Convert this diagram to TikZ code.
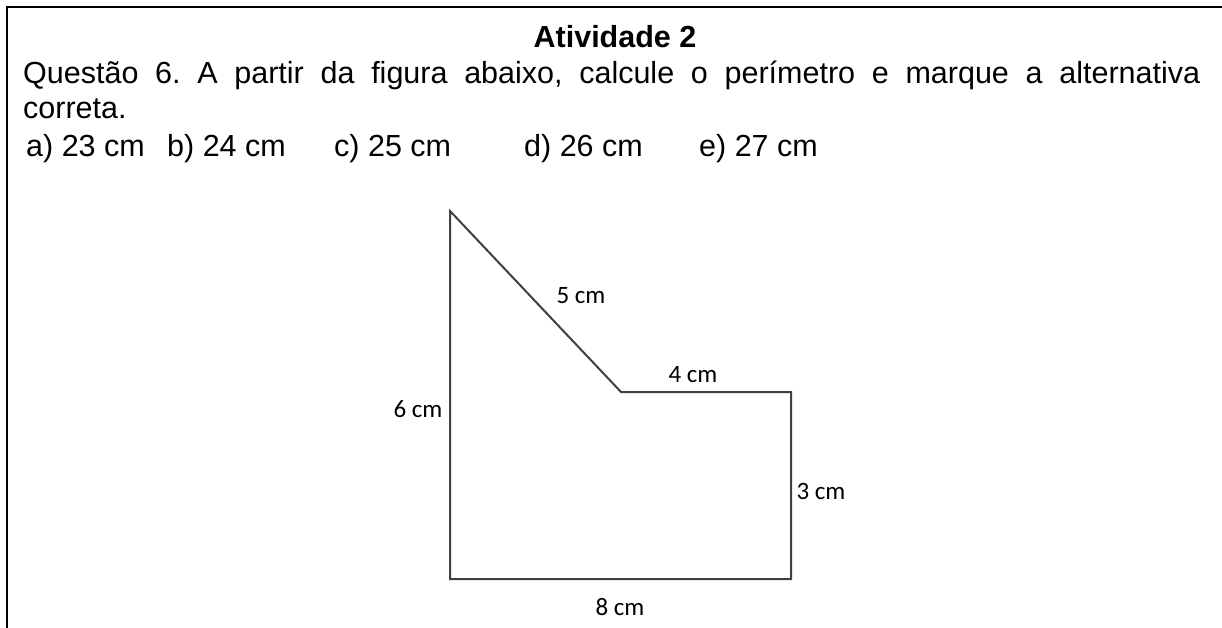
\documentclass[tikz,border=0pt]{standalone}
\usepackage{fontspec}
\setmainfont{Liberation Sans}
\newfontfamily\dimfont{Carlito}
\usetikzlibrary{positioning}
\frenchspacing

\begin{document}
\begin{tikzpicture}[x=1pt,y=-1pt,
  body/.style={font=\fontsize{30.5}{35}\selectfont, inner sep=0pt, anchor=base west},
  heading/.style={font=\fontsize{30.5}{35}\selectfont\bfseries, inner sep=0pt, anchor=base},
  dim/.style={font=\dimfont\fontsize{25}{28}\selectfont, inner sep=0pt},
  edge/.style={draw=black!75, line width=2pt, line join=miter},
  frame/.style={draw=black, line width=2.5pt}
]
\useasboundingbox (0,0) rectangle (1222,628);

% page frame
\coordinate (FrameR) at (1222,7);
\coordinate (FrameC) at (7,7);
\coordinate (FrameB) at (7,628);
\draw[frame] (FrameR) -- (FrameC) -- (FrameB);

% texts
\node[heading] (Title) at (615,48) {Atividade 2};
\node[body] (Question) at (23,84) {\makebox[1177pt][s]{Questão 6. A partir da figura abaixo, calcule o perímetro e marque a alternativa}};
\node[body] (QuestionEnd) at (23,119) {correta.};
\node[body] (OptA) at (26,157) {a) 23 cm};
\node[body] (OptB) at (167,157) {b) 24 cm};
\node[body] (OptC) at (334,157) {c) 25 cm};
\node[body] (OptD) at (524,157) {d) 26 cm};
\node[body] (OptE) at (699,157) {e) 27 cm};

% figure
\coordinate (Top) at (450,211);
\coordinate (Notch) at (621,392);
\coordinate (UpRight) at (791,392);
\coordinate (LowRight) at (791,579);
\coordinate (LowLeft) at (450,579);
\draw[edge] (Top) -- (Notch) -- (UpRight) -- (LowRight) -- (LowLeft) -- cycle;

\node[dim] (SlantLen) at (581,296) {5 cm};
\node[dim] (TopLen) at (693,375) {4 cm};
\node[dim] (RightLen) at (821,491) {3 cm};
\node[dim] (BaseLen) at (620,607) {8 cm};
\node[dim] (LeftLen) at (418,409) {6 cm};
\end{tikzpicture}
\end{document}
